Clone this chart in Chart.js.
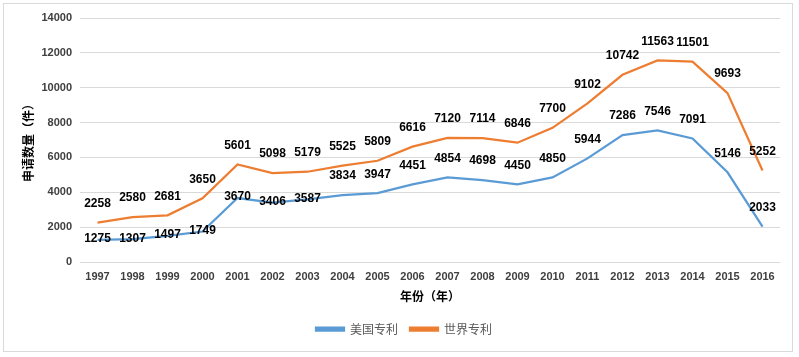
<!DOCTYPE html>
<html>
<head>
<meta charset="utf-8">
<script src="https://cdn.jsdelivr.net/npm/chart.js@4/dist/chart.umd.min.js"></script>
<style>
  html, body { margin: 0; padding: 0; background: #ffffff; }
  #wrap { position: relative; width: 799px; height: 357px; }
</style>
</head>
<body>
<div id="wrap"><canvas id="c" width="799" height="357"></canvas></div>
<script>
const years = ['1997','1998','1999','2000','2001','2002','2003','2004','2005','2006','2007','2008','2009','2010','2011','2012','2013','2014','2015','2016'];
const usPatents = [1275,1307,1497,1749,3670,3406,3587,3834,3947,4451,4854,4698,4450,4850,5944,7286,7546,7091,5146,2033];
const worldPatents = [2258,2580,2681,3650,5601,5098,5179,5525,5809,6616,7120,7114,6846,7700,9102,10742,11563,11501,9693,5252];
const seriesNames = ['美国专利','世界专利'];
const yTicks = [0,2000,4000,6000,8000,10000,12000,14000];
const xTitle = '年份（年）';
const yTitle = '申请数量（件）';

const cjk = "'Noto Sans CJK SC', 'Liberation Sans', sans-serif";
const latin = "'Liberation Sans', Arial, sans-serif";

const borderPlugin = {
  id: 'outerBorder',
  beforeDraw(chart) {
    const ctx = chart.ctx;
    ctx.save();
    ctx.fillStyle = '#ffffff';
    ctx.fillRect(0, 0, chart.width, chart.height);
    ctx.strokeStyle = '#d9d9d9';
    ctx.lineWidth = 1;
    ctx.strokeRect(3.5, 3.5, 789, 348);
    ctx.restore();
  }
};

const legendShift = {
  id: 'legendShift',
  afterLayout(chart) {
    if (chart.legend) {
      chart.legend.left += 14;
      chart.legend.right += 14;
    }
  }
};

const labelPlugin = {
  id: 'pointLabels',
  afterDatasetsDraw(chart) {
    const ctx = chart.ctx;
    ctx.save();
    ctx.font = 'bold 12px ' + latin;
    ctx.fillStyle = '#000000';
    ctx.textAlign = 'center';
    ctx.textBaseline = 'middle';
    chart.data.datasets.forEach((ds, di) => {
      const meta = chart.getDatasetMeta(di);
      meta.data.forEach((pt, i) => {
        const place = ds.labelPlace ? ds.labelPlace(i) : 'top';
        const dy = place === 'center' ? -1 : -19;
        ctx.fillText(String(ds.data[i]), pt.x, pt.y + dy);
      });
    });
    ctx.restore();
  }
};

new Chart(document.getElementById('c'), {
  type: 'line',
  data: {
    labels: years,
    datasets: [
      {
        label: seriesNames[0],
        data: usPatents,
        borderColor: '#5B9BD5',
        backgroundColor: '#5B9BD5',
        borderWidth: 2.25,
        pointRadius: 0,
        tension: 0,
        labelPlace: (i) => (i < 7 ? 'center' : 'top')
      },
      {
        label: seriesNames[1],
        data: worldPatents,
        borderColor: '#ED7D31',
        backgroundColor: '#ED7D31',
        borderWidth: 2.25,
        pointRadius: 0,
        tension: 0,
        labelPlace: () => 'top'
      }
    ]
  },
  options: {
    responsive: false,
    animation: false,
    devicePixelRatio: 1,
    layout: { padding: { left: 0, right: 19, top: 18, bottom: 12 } },
    plugins: {
      legend: {
        display: true,
        position: 'bottom',
        labels: {
          boxWidth: 28,
          boxHeight: 3,
          padding: 12,
          color: '#595959',
          font: { family: cjk, size: 12 }
        }
      },
      tooltip: { enabled: false }
    },
    scales: {
      x: {
        type: 'category',
        offset: true,
        grid: { display: false, drawTicks: false },
        border: { display: false },
        ticks: {
          color: '#404040',
          font: { family: latin, size: 11, weight: 'bold' },
          padding: 8,
          maxRotation: 0,
          autoSkip: false
        },
        title: {
          display: true,
          text: xTitle,
          color: '#000000',
          font: { family: cjk, size: 12, weight: 'bold' },
          padding: { top: 0, bottom: 7 }
        },
        afterFit(scale) { scale.height = 49; }
      },
      y: {
        min: 0,
        max: 14000,
        afterBuildTicks(scale) { scale.ticks = yTicks.map(v => ({ value: v })); },
        grid: { color: '#d9d9d9', lineWidth: 1, drawTicks: false },
        border: { display: false },
        ticks: {
          color: '#404040',
          font: { family: latin, size: 11, weight: 'bold' },
          padding: 8,
          callback: (v) => String(v)
        },
        title: {
          display: true,
          text: yTitle,
          color: '#000000',
          font: { family: cjk, size: 12, weight: 'bold' },
          padding: { top: 21, bottom: 0 }
        },
        afterFit(scale) { scale.width = 80; }
      }
    }
  },
  plugins: [borderPlugin, legendShift, labelPlugin]
});
</script>
</body>
</html>
